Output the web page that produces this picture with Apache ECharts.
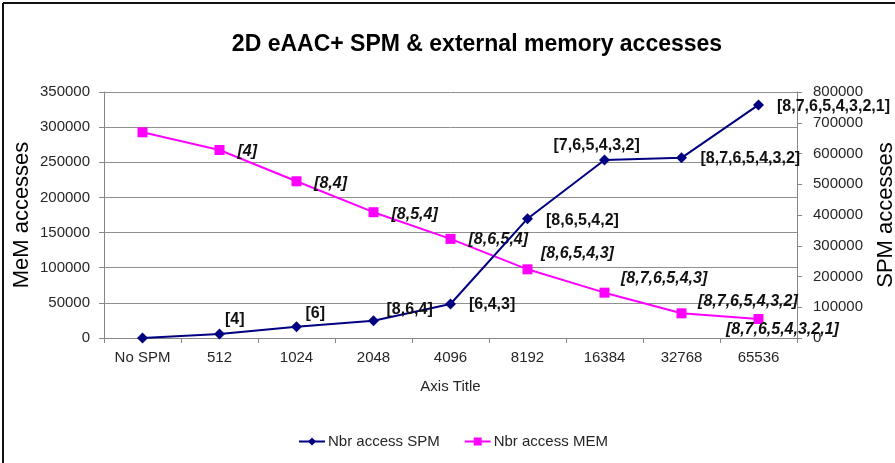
<!DOCTYPE html>
<html>
<head>
<meta charset="utf-8">
<script src="https://cdn.jsdelivr.net/npm/echarts@6/dist/echarts.min.js"></script>
<style>
html,body{margin:0;padding:0;background:#fff;}
#chart{width:895px;height:463px;}
</style>
</head>
<body>
<div id="chart"></div>
<script>
// ---- data ----
const categories = ['No SPM', '512', '1024', '2048', '4096', '8192', '16384', '32768', '65536'];
const spmValues = [0, 13000, 36800, 56000, 110600, 388000, 579000, 586000, 758000];
const memValues = [292700, 267500, 223000, 179000, 141000, 97700, 64500, 35100, 27000];
const spmLabels = ['', '[4]', '[6]', '[8,6,4]', '[6,4,3]', '[8,6,5,4,2]', '[7,6,5,4,3,2]', '[8,7,6,5,4,3,2]', '[8,7,6,5,4,3,2,1]'];
const memLabels = ['', '[4]', '[8,4]', '[8,5,4]', '[8,6,5,4]', '[8,6,5,4,3]', '[8,7,6,5,4,3]', '[8,7,6,5,4,3,2]', '[8,7,6,5,4,3,2,1]'];
const leftTicks = {min: 0, max: 350000, interval: 50000};
const rightTicks = {min: 0, max: 800000, interval: 100000};

// ---- layout (label offsets relative to 'right' position) ----
const spmOffsets = [[0,0],[-5,-14],[-1.5,-12.7],[2.5,-11],[8,1],[8,2],[-61.5,-14.3],[8.5,1],[8,2]];
const memOffsets = [[0,0],[8,1.7],[7.6,2.3],[8,2],[8,1],[3.5,-16],[6.5,-14],[6.6,-11.6],[-42.6,10.3]];

const FONT = 'Liberation Sans, Arial, sans-serif';
const AXIS_GRAY = '#868686';
const TXT = '#262626';

function build(values, labels, offsets, italic) {
  return values.map((v, i) => ({
    value: v,
    label: {
      show: labels[i] !== '',
      formatter: labels[i],
      position: 'right',
      distance: 5,
      offset: offsets[i],
      fontFamily: FONT,
      fontSize: 16,
      fontWeight: 'bold',
      fontStyle: italic ? 'italic' : 'normal',
      color: '#111'
    }
  }));
}

const plain = v => String(v);

const chart = echarts.init(document.getElementById('chart'), null, {renderer: 'canvas'});
chart.setOption({
  animation: false,
  backgroundColor: '#fff',
  textStyle: {fontFamily: FONT},
  title: {
    text: '2D eAAC+ SPM & external memory accesses',
    left: 477, top: 33, textAlign: 'center', padding: 0,
    textStyle: {fontFamily: FONT, fontSize: 23, fontWeight: 'bold', color: '#000'}
  },
  legend: {
    left: 298, top: 434, padding: 0,
    itemWidth: 26, itemHeight: 10, itemGap: 24,
    textStyle: {fontFamily: FONT, fontSize: 15, color: TXT, padding: [0,0,0,-2]},
    data: ['Nbr access SPM', 'Nbr access MEM']
  },
  grid: {left: 104, right: 98, top: 92, bottom: 125, containLabel: false, outerBoundsMode: 'none'},
  xAxis: {
    type: 'category',
    data: categories,
    boundaryGap: true,
    name: 'Axis Title',
    nameLocation: 'middle',
    nameGap: 41,
    nameMoveOverlap: false,
    nameTextStyle: {fontFamily: FONT, fontSize: 15, color: TXT},
    axisLine: {lineStyle: {color: AXIS_GRAY, width: 1}},
    axisTick: {show: true, length: 5, lineStyle: {color: AXIS_GRAY}},
    axisLabel: {fontFamily: FONT, fontSize: 15, color: TXT, margin: 12}
  },
  yAxis: [
    {
      type: 'value', position: 'left',
      min: leftTicks.min, max: leftTicks.max, interval: leftTicks.interval,
      name: 'MeM accesses', nameLocation: 'middle', nameGap: 71,
      nameMoveOverlap: false,
      nameTextStyle: {fontFamily: FONT, fontSize: 22, color: '#000'},
      axisLine: {show: true, lineStyle: {color: AXIS_GRAY}},
      axisTick: {show: true, length: 5, lineStyle: {color: AXIS_GRAY}},
      axisLabel: {fontFamily: FONT, fontSize: 15, color: TXT, margin: 14, formatter: plain},
      splitLine: {show: true, lineStyle: {color: '#8f8f8f', width: 1}}
    },
    {
      type: 'value', position: 'right',
      min: rightTicks.min, max: rightTicks.max, interval: rightTicks.interval,
      name: 'SPM accesses', nameLocation: 'middle', nameGap: 78,
      nameMoveOverlap: false,
      nameTextStyle: {fontFamily: FONT, fontSize: 22, color: '#000'},
      axisLine: {show: true, lineStyle: {color: AXIS_GRAY}},
      axisTick: {show: true, length: 5, lineStyle: {color: AXIS_GRAY}},
      axisLabel: {fontFamily: FONT, fontSize: 15, color: TXT, margin: 16, formatter: plain},
      splitLine: {show: false}
    }
  ],
  series: [
    {
      name: 'Nbr access SPM', type: 'line', yAxisIndex: 1,
      data: build(spmValues, spmLabels, spmOffsets, false),
      symbol: 'diamond', symbolSize: 11,
      lineStyle: {color: '#000080', width: 2},
      itemStyle: {color: '#000080'},
      z: 3
    },
    {
      name: 'Nbr access MEM', type: 'line', yAxisIndex: 0,
      data: build(memValues, memLabels, memOffsets, true),
      symbol: 'rect', symbolSize: 10,
      lineStyle: {color: '#ff00ff', width: 2},
      itemStyle: {color: '#ff00ff'},
      z: 2
    }
  ],
  graphic: [
    {type: 'line', shape: {x1: 3, y1: 3, x2: 895, y2: 3}, style: {stroke: '#111', lineWidth: 2}, silent: true},
    {type: 'line', shape: {x1: 3, y1: 3, x2: 3, y2: 463}, style: {stroke: '#111', lineWidth: 2}, silent: true}
  ]
});
</script>
</body>
</html>
